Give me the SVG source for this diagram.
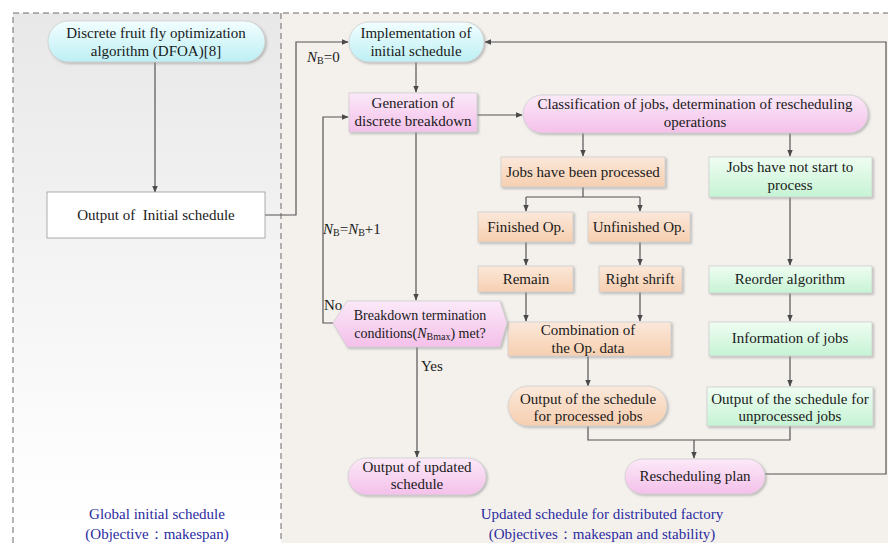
<svg xmlns="http://www.w3.org/2000/svg" width="888" height="543" viewBox="0 0 888 543">
  <defs>
    <linearGradient id="gLeft" x1="0" y1="0" x2="0" y2="1">
      <stop offset="0" stop-color="#e8e8e8"/>
      <stop offset="0.85" stop-color="#fdfdfd"/>
      <stop offset="1" stop-color="#ffffff"/>
    </linearGradient>
    <linearGradient id="gCyan" x1="0" y1="0" x2="0" y2="1">
      <stop offset="0" stop-color="#f2feff"/>
      <stop offset="1" stop-color="#bdeff4"/>
    </linearGradient>
    <linearGradient id="gPink" x1="0" y1="0" x2="0" y2="1">
      <stop offset="0" stop-color="#fbe9f8"/>
      <stop offset="1" stop-color="#f4c0ea"/>
    </linearGradient>
    <linearGradient id="gPeach" x1="0" y1="0" x2="0" y2="1">
      <stop offset="0" stop-color="#fbe8da"/>
      <stop offset="1" stop-color="#f6cfb0"/>
    </linearGradient>
    <linearGradient id="gGreen" x1="0" y1="0" x2="0" y2="1">
      <stop offset="0" stop-color="#effdf2"/>
      <stop offset="1" stop-color="#c6f3d4"/>
    </linearGradient>
    <filter id="shadow" x="-10%" y="-20%" width="125%" height="150%">
      <feDropShadow dx="1.5" dy="1.5" stdDeviation="1.2" flood-color="#8a8a8a" flood-opacity="0.55"/>
    </filter>
    <marker id="arrow" viewBox="0 0 10 10" refX="9" refY="5" markerWidth="7" markerHeight="7" orient="auto" markerUnits="userSpaceOnUse">
      <path d="M0,1 L10,5 L0,9 z" fill="#4a4a4a"/>
    </marker>
  </defs>
  <style>
    text { font-family: "Liberation Serif", "Times New Roman", serif; font-size: 15px; fill: #1a1a1a; }
    .c { text-anchor: middle; }
    .s14 { font-size: 14px; }
    .blue { fill: #2b2ba0; }
    .sub { font-size: 10px; }
    .it { font-style: italic; }
    .node { stroke: #cfcfcf; stroke-width: 0.8; filter: url(#shadow); }
    .cyan { fill: url(#gCyan); }
    .pink { fill: url(#gPink); }
    .peach { fill: url(#gPeach); }
    .green { fill: url(#gGreen); }
    .edge { fill: none; stroke: #555555; stroke-width: 1.2; }
    .arr { marker-end: url(#arrow); }
    .panel { stroke: #6a6a6a; stroke-width: 1; stroke-dasharray: 6 4; fill: none; }
  </style>

  <!-- background panels -->
  <rect x="0" y="0" width="888" height="543" fill="#ffffff"/>
  <rect x="281" y="13" width="607" height="530" fill="#f4f1ed"/>
  <rect x="13" y="13" width="268" height="530" fill="url(#gLeft)"/>
  <path class="panel" d="M13,543 V13 H888 M281,13 V543"/>

  <!-- panel captions -->
  <g id="caption-left">
    <text class="c blue" x="157" y="519">Global initial schedule</text>
    <text class="c blue" x="157" y="539">(Objective：makespan)</text>
  </g>
  <g id="caption-right">
    <text class="c blue" x="602" y="519">Updated schedule for distributed factory</text>
    <text class="c blue" x="602" y="539">(Objectives：makespan and stability)</text>
  </g>

  <!-- connectors -->
  <g id="connectors">
    <path class="edge arr" d="M155,62 V192"/>
    <path class="edge arr" d="M265,215 H296 V42 H348"/>
    <path class="edge arr" d="M416,62 V92"/>
    <path class="edge arr" d="M477,115 H522"/>
    <path class="edge arr" d="M583,133 V156"/>
    <path class="edge arr" d="M790,133 V156"/>
    <path class="edge" d="M583,187 V197 M526,197 H640"/>
    <path class="edge arr" d="M526,197 V211"/>
    <path class="edge arr" d="M640,197 V211"/>
    <path class="edge arr" d="M526,242 V265"/>
    <path class="edge arr" d="M640,242 V265"/>
    <path class="edge arr" d="M526,292 V321"/>
    <path class="edge arr" d="M640,292 V321"/>
    <path class="edge arr" d="M588,356 V386"/>
    <path class="edge arr" d="M790,197 V265"/>
    <path class="edge arr" d="M790,293 V321"/>
    <path class="edge arr" d="M790,356 V386"/>
    <path class="edge" d="M588,426 V440 H790 V426"/>
    <path class="edge arr" d="M694,440 V458"/>
    <path class="edge arr" d="M765,474 H886 V42 H485"/>
    <path class="edge arr" d="M416,132 V300"/>
    <path class="edge arr" d="M333,323 H323 V117 H348"/>
    <path class="edge arr" d="M417,347 V457"/>
  </g>

  <!-- edge labels -->
  <g id="labels">
    <text x="307" y="62"><tspan class="it">N</tspan><tspan class="sub" dy="2">B</tspan><tspan dy="-2">=0</tspan></text>
    <text x="323" y="234"><tspan class="it">N</tspan><tspan class="sub" dy="2">B</tspan><tspan dy="-2">=</tspan><tspan class="it">N</tspan><tspan class="sub" dy="2">B</tspan><tspan dy="-2">+1</tspan></text>
    <text x="324" y="310">No</text>
    <text x="421" y="371">Yes</text>
  </g>

  <!-- left panel nodes -->
  <g id="dfoa">
    <rect class="node cyan" x="48" y="21" width="217" height="41" rx="20.5"/>
    <text class="c" x="156" y="38">Discrete fruit fly optimization</text>
    <text class="c" x="156" y="56">algorithm (DFOA)[8]</text>
  </g>
  <g id="initial-output">
    <rect x="47" y="192" width="218" height="46" fill="#ffffff" stroke="#9a9a9a" stroke-width="0.8"/>
    <text class="c" x="156" y="220">Output of&#160; Initial schedule</text>
  </g>

  <!-- right panel nodes -->
  <g id="implementation">
    <rect class="node cyan" x="349" y="22" width="135" height="40" rx="20"/>
    <text class="c" x="416" y="38">Implementation of</text>
    <text class="c" x="416" y="56">initial schedule</text>
  </g>
  <g id="generation">
    <rect class="node pink" x="349" y="93" width="128" height="39"/>
    <text class="c" x="413" y="108">Generation of</text>
    <text class="c" x="413" y="126">discrete breakdown</text>
  </g>
  <g id="classification">
    <rect class="node pink" x="523" y="95" width="345" height="38" rx="19"/>
    <text class="c" x="695" y="109">Classification of jobs, determination of rescheduling</text>
    <text class="c" x="695" y="127">operations</text>
  </g>
  <g id="processed">
    <rect class="node peach" x="501" y="157" width="164" height="30"/>
    <text class="c" x="583" y="177">Jobs have been processed</text>
  </g>
  <g id="not-started">
    <rect class="node green" x="709" y="157" width="163" height="40"/>
    <text class="c" x="790" y="172">Jobs have not start to</text>
    <text class="c" x="790" y="190">process</text>
  </g>
  <g id="finished">
    <rect class="node peach" x="478" y="212" width="95" height="30"/>
    <text class="c" x="526" y="232">Finished Op.</text>
  </g>
  <g id="unfinished">
    <rect class="node peach" x="588" y="212" width="102" height="30"/>
    <text class="c" x="639" y="232">Unfinished Op.</text>
  </g>
  <g id="remain">
    <rect class="node peach" x="478" y="266" width="95" height="26"/>
    <text class="c" x="526" y="284">Remain</text>
  </g>
  <g id="right-shift">
    <rect class="node peach" x="599" y="266" width="83" height="26"/>
    <text class="c" x="640" y="284">Right shrift</text>
  </g>
  <g id="reorder">
    <rect class="node green" x="709" y="266" width="163" height="27"/>
    <text class="c" x="790" y="284">Reorder algorithm</text>
  </g>
  <g id="combination">
    <rect class="node peach" x="508" y="322" width="163" height="34"/>
    <text class="c" x="588" y="335">Combination of</text>
    <text class="c" x="588" y="353">the Op. data</text>
  </g>
  <g id="information">
    <rect class="node green" x="709" y="322" width="163" height="34"/>
    <text class="c" x="790" y="343">Information of jobs</text>
  </g>
  <g id="processed-output">
    <rect class="node peach" x="508" y="386" width="159" height="40" rx="20"/>
    <text class="c" x="588" y="404">Output of the schedule</text>
    <text class="c" x="588" y="421">for processed jobs</text>
  </g>
  <g id="unprocessed-output">
    <rect class="node green" x="707" y="387" width="166" height="39"/>
    <text class="c" x="790" y="404">Output of the schedule for</text>
    <text class="c" x="790" y="421">unprocessed jobs</text>
  </g>
  <g id="rescheduling-plan">
    <rect class="node pink" x="625" y="459" width="140" height="35" rx="17.5"/>
    <text class="c" x="695" y="481">Rescheduling plan</text>
  </g>
  <g id="termination">
    <polygon class="node pink" points="333,323 347,301 500,301 507,323 500,347 347,347"/>
    <text class="c s14" x="420" y="320">Breakdown termination</text>
    <text class="c s14" x="420" y="338">conditions(<tspan class="it">N</tspan><tspan class="sub" dy="2">Bmax</tspan><tspan dy="-2">) met?</tspan></text>
  </g>
  <g id="updated-output">
    <rect class="node pink" x="348" y="458" width="138" height="37" rx="18.5"/>
    <text class="c" x="417" y="472">Output of updated</text>
    <text class="c" x="417" y="489">schedule</text>
  </g>
</svg>
